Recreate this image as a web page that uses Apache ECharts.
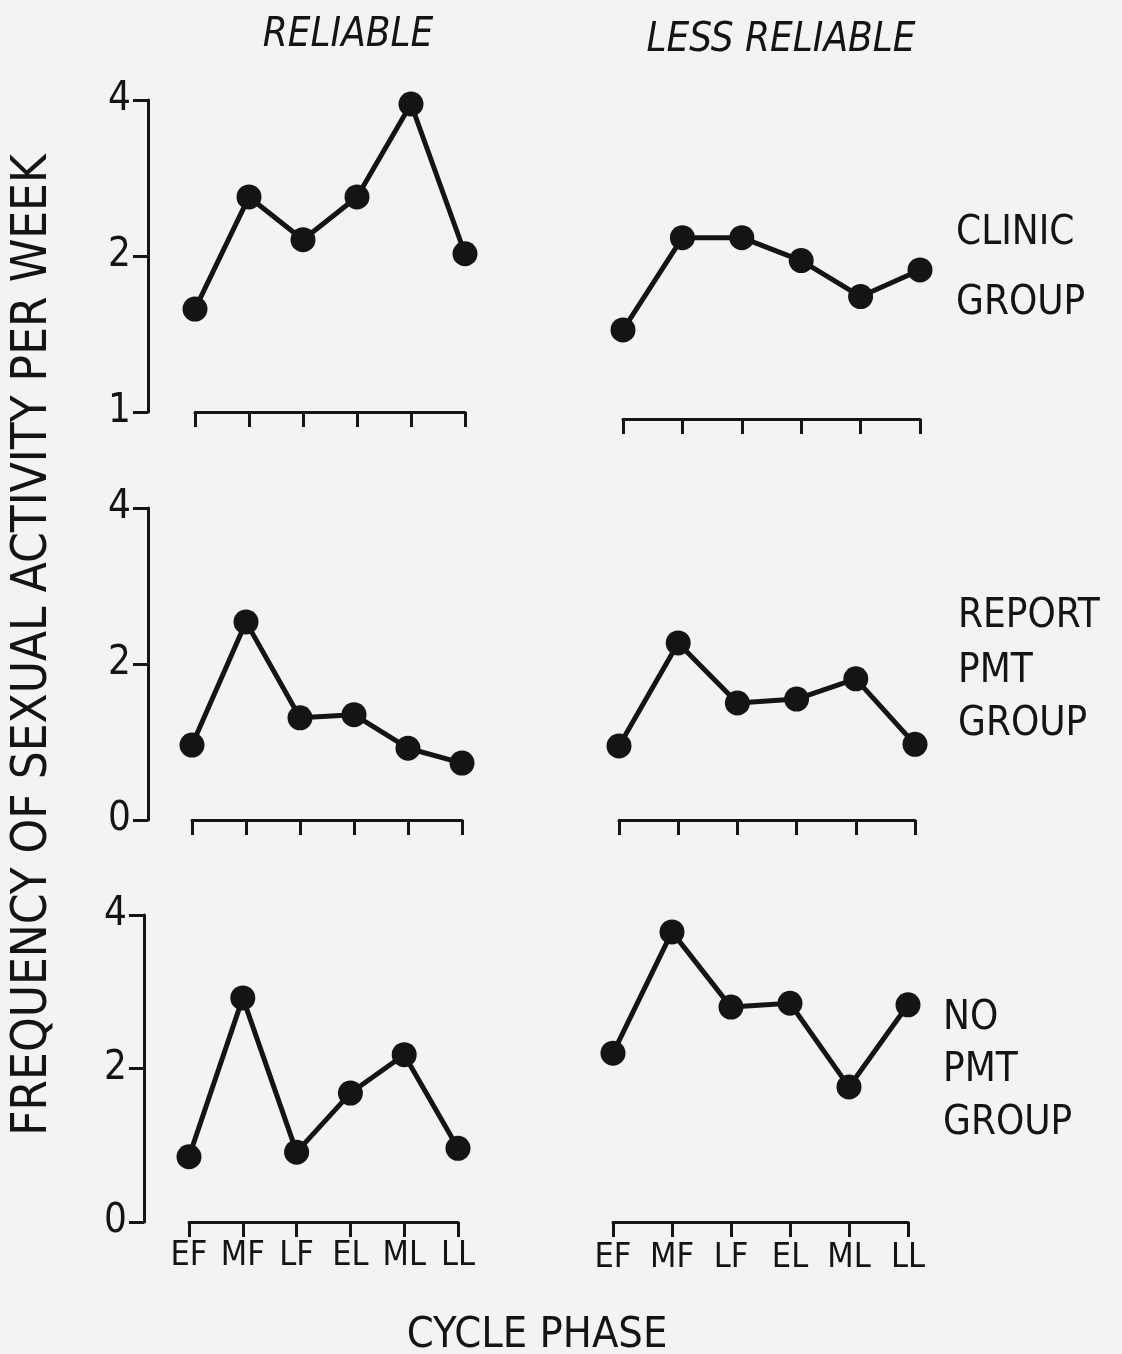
<!DOCTYPE html>
<html>
<head>
<meta charset="utf-8">
<script src="https://cdn.jsdelivr.net/npm/echarts@6/dist/echarts.min.js"></script>
<style>
html,body{margin:0;padding:0;background:#f3f3f1;}
#c{width:1122px;height:1354px;}
</style>
</head>
<body>
<div id="c"></div>
<script>
// ---- data ----
const phases = ['EF', 'MF', 'LF', 'EL', 'ML', 'LL'];
const clinicReliable = [1.58, 2.6, 2.15, 2.6, 3.93, 2.02];
const clinicLess = [1.44, 2.17, 2.17, 1.96, 1.67, 1.88];
const reportReliable = [0.96, 2.54, 1.31, 1.35, 0.92, 0.73];
const reportLess = [0.95, 2.27, 1.50, 1.55, 1.81, 0.97];
const noPmtReliable = [0.85, 2.92, 0.91, 1.68, 2.18, 0.96];
const noPmtLess = [2.20, 3.78, 2.80, 2.85, 1.76, 2.83];
const columnTitles = ['RELIABLE', 'LESS RELIABLE'];
const rowLabels = [['CLINIC', 'GROUP'], ['REPORT', 'PMT', 'GROUP'], ['NO', 'PMT', 'GROUP']];
const yTitle = 'FREQUENCY OF SEXUAL ACTIVITY PER WEEK';
const xTitle = 'CYCLE PHASE';

// ---- layout ----
const INK = '#141414';
const FONT = '"DejaVu Sans Condensed", "DejaVu Sans", sans-serif';
const panels = [
  {data: clinicReliable, left: 195, width: 270, top: 100, height: 312, log: true, showY: true, yOff: 47, xOff: 0, showX: false},
  {data: clinicLess, left: 623, width: 297, top: 100, height: 312, log: true, showY: false, yOff: 0, xOff: 7, showX: false},
  {data: reportReliable, left: 192, width: 270, top: 508, height: 312, log: false, showY: true, yOff: 44, xOff: 0, showX: false},
  {data: reportLess, left: 619, width: 296, top: 508, height: 312, log: false, showY: false, yOff: 0, xOff: 2, showX: false},
  {data: noPmtReliable, left: 189, width: 269, top: 915, height: 307, log: false, showY: true, yOff: 45, xOff: 3, showX: true},
  {data: noPmtLess, left: 613, width: 295, top: 915, height: 307, log: false, showY: false, yOff: 0, xOff: 5, showX: true}
];

const grid = [], xAxis = [], yAxis = [], series = [];
panels.forEach((p, i) => {
  grid.push({left: p.left, top: p.top, width: p.width, height: p.height, containLabel: false});
  xAxis.push({
    type: 'category', gridIndex: i, data: phases, boundaryGap: false, position: 'bottom', offset: p.xOff,
    axisLine: {show: true, lineStyle: {color: INK, width: 3}},
    axisTick: {show: true, interval: 0, length: 15, lineStyle: {color: INK, width: 3}},
    axisLabel: {show: p.showX, interval: 0, color: INK, fontFamily: FONT, fontSize: 34, margin: 14},
    splitLine: {show: false}
  });
  const y = {
    gridIndex: i, show: true, offset: p.yOff, position: 'left',
    axisLine: {show: p.showY, onZero: false, lineStyle: {color: INK, width: 3}},
    axisTick: {show: p.showY, length: 15, lineStyle: {color: INK, width: 3}},
    axisLabel: {show: p.showY, color: INK, fontFamily: FONT, fontSize: 40, margin: 17},
    splitLine: {show: false}
  };
  if (p.log) { Object.assign(y, {type: 'log', logBase: 2, min: 1, max: 4}); }
  else { Object.assign(y, {type: 'value', min: 0, max: 4, interval: 2}); }
  yAxis.push(y);
  series.push({
    type: 'line', xAxisIndex: i, yAxisIndex: i, data: p.data,
    symbol: 'circle', symbolSize: 25,
    lineStyle: {color: INK, width: 5}, itemStyle: {color: INK},
    animation: false, silent: true
  });
});

const textStyle = (size, italic) => ({fill: INK, font: (italic ? 'italic ' : '') + size + 'px ' + FONT});
const graphic = [];
function txt(t, x, y, size, align, italic, rot) {
  graphic.push({type: 'text', x: x, y: y, rotation: rot || 0, silent: true,
    style: Object.assign(textStyle(size, italic), {text: t, textAlign: align, textVerticalAlign: 'middle'})});
}
txt(columnTitles[0], 348, 36, 40, 'center', true);
txt(columnTitles[1], 781, 41, 40, 'center', true);
txt(rowLabels[0][0], 956, 234, 40, 'left');
txt(rowLabels[0][1], 956, 304, 40, 'left');
txt(rowLabels[1][0], 958, 617, 40, 'left');
txt(rowLabels[1][1], 958, 672, 40, 'left');
txt(rowLabels[1][2], 958, 725, 40, 'left');
txt(rowLabels[2][0], 943, 1019, 40, 'left');
txt(rowLabels[2][1], 943, 1071, 40, 'left');
txt(rowLabels[2][2], 943, 1124, 40, 'left');
txt(xTitle, 537, 1336, 43, 'center');
txt(yTitle, 33, 645, 49, 'center', false, Math.PI / 2);

const chart = echarts.init(document.getElementById('c'), null, {renderer: 'canvas'});
chart.setOption({
  backgroundColor: '#f3f3f1',
  animation: false,
  grid, xAxis, yAxis, series, graphic
});
</script>
</body>
</html>
